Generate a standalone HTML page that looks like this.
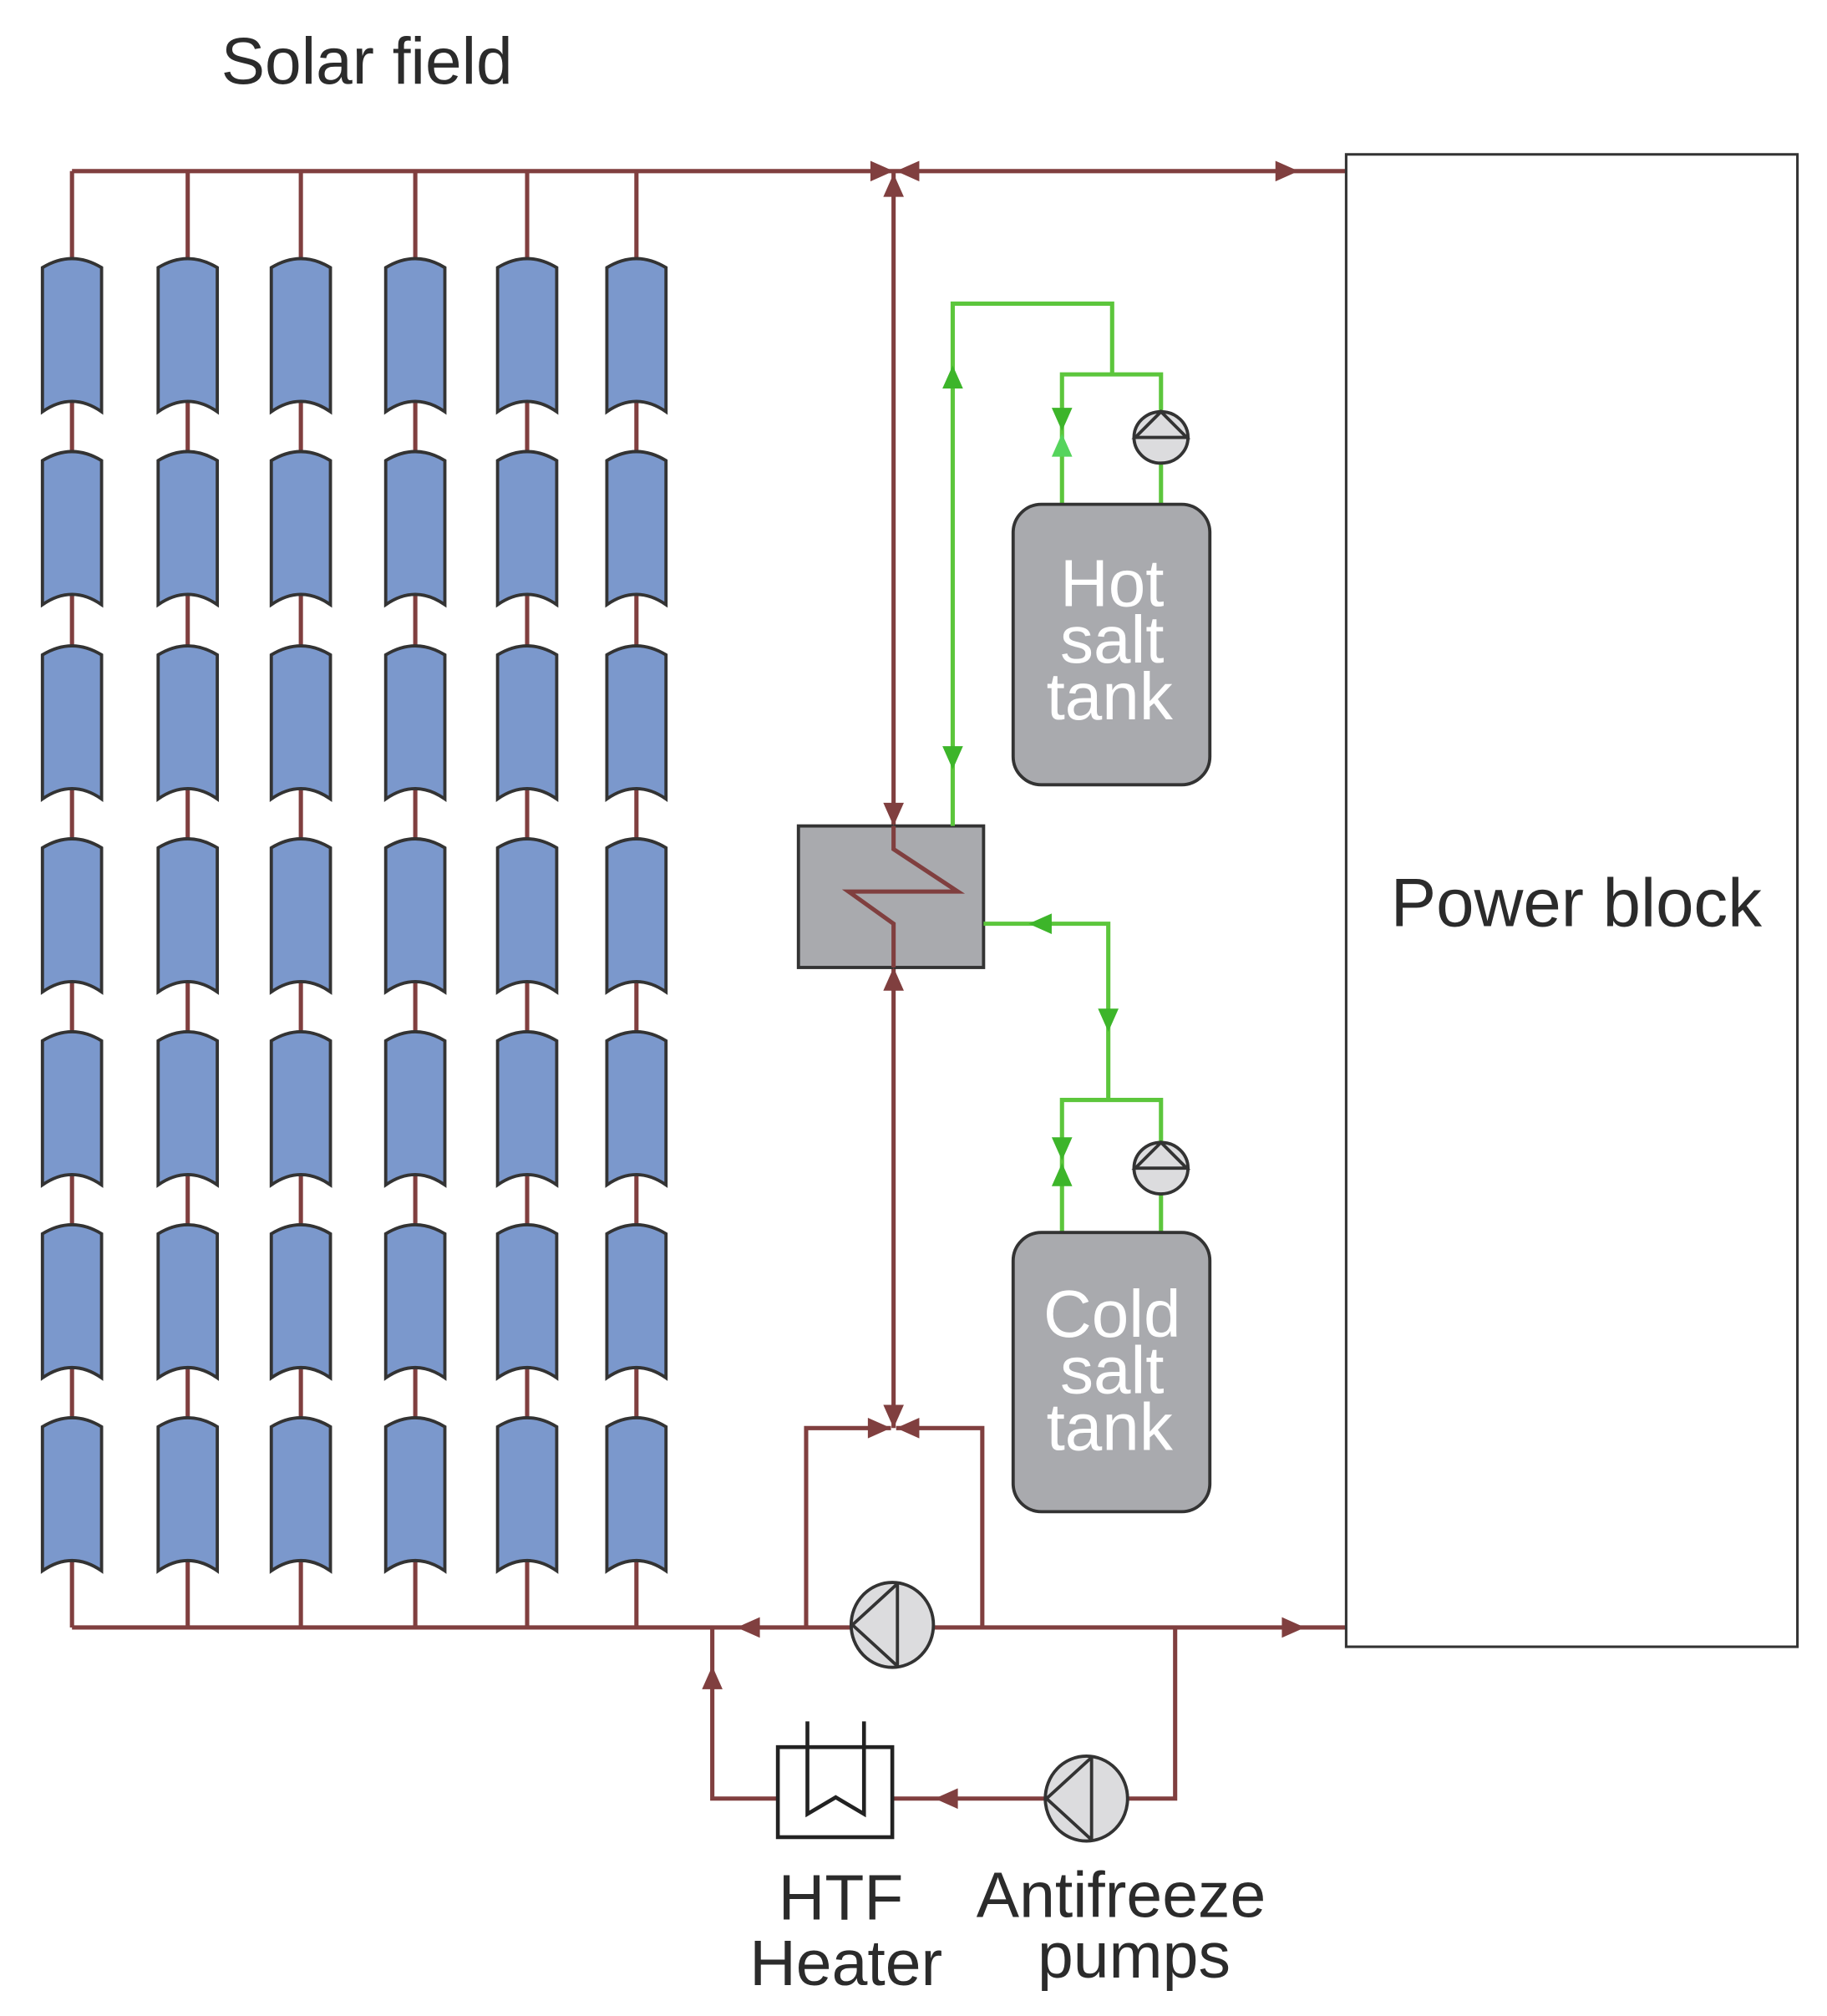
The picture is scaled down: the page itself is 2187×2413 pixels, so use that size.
<!DOCTYPE html>
<html><head><meta charset="utf-8"><style>
html,body{margin:0;padding:0;background:#fff;width:2187px;height:2413px;overflow:hidden}
svg{display:block}
text{font-family:"Liberation Sans",Arial,sans-serif}
</style></head><body>
<svg width="2187" height="2413" viewBox="0 0 1421 1567" preserveAspectRatio="none" xmlns="http://www.w3.org/2000/svg">
<defs>
<path id="c" d="M-23,208 Q0,194 23,208 L23,320 Q0,304 -23,320 Z" fill="#7b98cc" stroke="#333" stroke-width="2.5"/>
<g id="col">
<line x1="0" y1="133" x2="0" y2="1265" stroke="#803f3f" stroke-width="3.3"/>
<use href="#c"/>
<use href="#c" y="150"/>
<use href="#c" y="301"/>
<use href="#c" y="451"/>
<use href="#c" y="601"/>
<use href="#c" y="751"/>
<use href="#c" y="901"/>
</g>
</defs>
<text x="172" y="65" font-size="51" fill="#2b2b2b">Solar field</text>
<g fill="none" stroke="#803f3f" stroke-width="3.3">
<polyline points="56,133 56,133 1047,133"/>
<line x1="56" y1="1265" x2="1047" y2="1265"/>
<line x1="695" y1="133" x2="695" y2="642"/>
<line x1="695" y1="752" x2="695" y2="1110"/>
<polyline points="627,1265 627,1110 693,1110"/>
<polyline points="764,1265 764,1110 697,1110"/>
<polyline points="914,1265 914,1398 878,1398"/>
<line x1="812" y1="1398" x2="694" y2="1398"/>
<polyline points="605,1398 554,1398 554,1265"/>
</g>
<use href="#col" x="56"/><use href="#col" x="146"/><use href="#col" x="234"/>
<use href="#col" x="323"/><use href="#col" x="410"/><use href="#col" x="495"/>
<rect x="1047" y="120" width="351" height="1160" fill="#fff" stroke="#333" stroke-width="2"/>
<text x="1226" y="720" font-size="53" fill="#2b2b2b" text-anchor="middle">Power block</text>
<!-- HX -->
<rect x="621" y="642" width="144" height="110" fill="#a9aaae" stroke="#333" stroke-width="2.5"/>
<polyline points="695,642 695,660 745,693 660,693 695,718 695,752" fill="none" stroke="#803f3f" stroke-width="3.3"/>
<!-- green -->
<g fill="none" stroke="#5cc63c" stroke-width="3.3">
<polyline points="741,642 741,236 865,236 865,291"/>
<polyline points="826,392 826,291 903,291 903,392"/>
<polyline points="765,718 862,718 862,855"/>
<polyline points="826,958 826,855 903,855 903,958"/>
</g>
<g fill="#3db52a">
<polygon points="733,302 741,284 749,302"/>
<polygon points="733,580 741,598 749,580"/>
<polygon points="818,317 826,335 834,317"/>
<polygon points="818,355 826,337 834,355" fill="#55d45c"/>
<polygon points="800,718 818,710 818,726"/>
<polygon points="854,784 862,802 870,784"/>
<polygon points="818,884 826,902 834,884"/>
<polygon points="818,922 826,904 834,922"/>
</g>
<!-- small pumps -->
<g stroke="#333" stroke-width="2.5" fill="#dcdcde">
<ellipse cx="903" cy="340" rx="21" ry="20"/>
<path d="M883,340 L903,320 L923,340 Z M882,340 L924,340" fill="none"/>
<ellipse cx="903" cy="908" rx="21" ry="20"/>
<path d="M883,908 L903,888 L923,908 Z M882,908 L924,908" fill="none"/>
</g>
<!-- tanks -->
<rect x="788" y="392" width="153" height="218" rx="22" fill="#a9aaae" stroke="#333" stroke-width="2.5"/>
<rect x="788" y="958" width="153" height="217" rx="22" fill="#a9aaae" stroke="#333" stroke-width="2.5"/>
<g fill="#fff" font-size="52" text-anchor="middle">
<text x="865" y="471">Hot</text><text x="865" y="515">salt</text><text x="863" y="559">tank</text>
<text x="865" y="1039">Cold</text><text x="865" y="1083">salt</text><text x="863" y="1127">tank</text>
</g>
<!-- brown arrows -->
<g fill="#803f3f">
<polygon points="677,125 695,133 677,141"/>
<polygon points="715,125 697,133 715,141"/>
<polygon points="992,125 1010,133 992,141"/>
<polygon points="687,153 695,135 703,153"/>
<polygon points="687,624 695,642 703,624"/>
<polygon points="687,770 695,752 703,770"/>
<polygon points="687,1092 695,1110 703,1092"/>
<polygon points="675,1102 693,1110 675,1118"/>
<polygon points="715,1102 697,1110 715,1118"/>
<polygon points="591,1257 573,1265 591,1273"/>
<polygon points="997,1257 1015,1265 997,1273"/>
<polygon points="727,1398 745,1390 745,1406"/>
<polygon points="546,1313 554,1295 562,1313"/>
</g>
<!-- big pumps -->
<g stroke="#333" stroke-width="2.5" fill="#dcdcde">
<ellipse cx="694" cy="1263" rx="32" ry="33"/>
<path d="M698,1231 L698,1295 M698,1231 L663,1263 L698,1295" fill="none"/>
<ellipse cx="845" cy="1398" rx="32" ry="33"/>
<path d="M849,1366 L849,1430 M849,1366 L814,1398 L849,1430" fill="none"/>
</g>
<!-- heater -->
<rect x="605" y="1358" width="89" height="70" fill="#fff" stroke="#222" stroke-width="3"/>
<polyline points="628,1338 628,1410 650,1397 672,1410 672,1338" fill="none" stroke="#222" stroke-width="3"/>
<g fill="#2b2b2b" font-size="50" text-anchor="middle">
<text x="654" y="1492">HTF</text><text x="658" y="1543">Heater</text>
<text x="872" y="1490">Antifreeze</text><text x="882" y="1537">pumps</text>
</g>
</svg>
</body></html>
